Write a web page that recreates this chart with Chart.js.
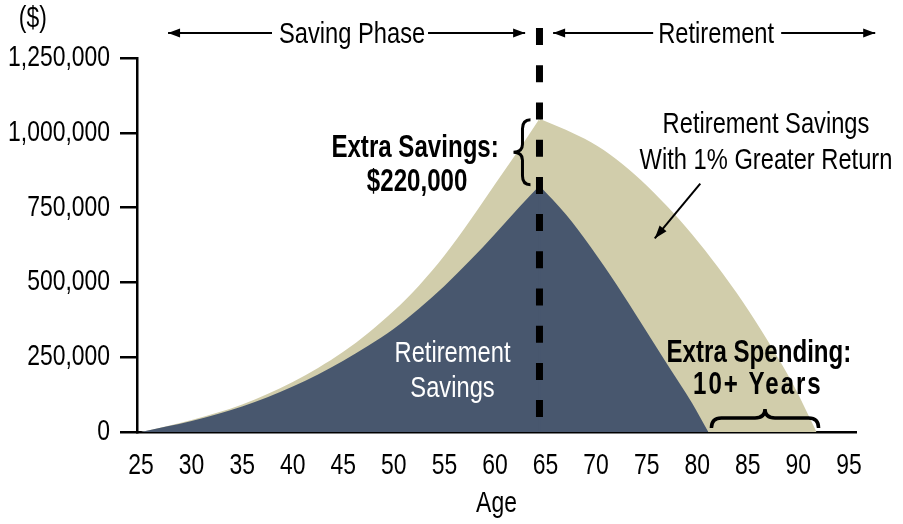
<!DOCTYPE html>
<html><head><meta charset="utf-8">
<script src="https://cdn.jsdelivr.net/npm/chart.js@4.4.0/dist/chart.umd.min.js"></script>
<style>html,body{margin:0;padding:0;background:#fff;overflow:hidden}</style>
</head><body>
<canvas id="c" width="903" height="524" style="width:903px;height:524px;display:block"></canvas>
<script>
// ---- data ----
const accumAges   = [25, 27.5, 30, 32.5, 35, 37.5, 40, 42.5, 45, 47.5, 50, 52.5, 55, 57.5, 60, 62.5, 64.4];
const baseAccum   = [0, 18000, 37000, 59000, 85000, 116000, 152000, 192000, 238000, 289000, 345000, 413000, 488000, 572000, 662000, 755000, 823000];
const higherAccum = [0, 19000, 40000, 64000, 92000, 127000, 167000, 214000, 268000, 332000, 405000, 490000, 590000, 705000, 828000, 950000, 1047000];
const drawAges    = [64.4, 67, 69.5, 72, 74.5, 77, 79.5, 81.1];
const baseDraw    = [823000, 728000, 617000, 494000, 362000, 228000, 96000, 0];
const higherDrawAges = [64.4, 67, 69.5, 72, 74.5, 77, 79.5, 82, 84.5, 87, 89.5, 91.8];
const higherDraw     = [1047000, 1010000, 968000, 912000, 840000, 755000, 660000, 553000, 435000, 303000, 158000, 0];
const xTicks = [25, 30, 35, 40, 45, 50, 55, 60, 65, 70, 75, 80, 85, 90, 95];
const yTicks = [0, 250000, 500000, 750000, 1000000, 1250000];
const retireAge = 64.4;

const TAN = '#d1cdab', NAVY = '#48576e';
const FAM = "'Liberation Sans', Arimo, 'Noto Sans', sans-serif";
const FS = 29, SX = 0.79;
Chart.defaults.font.family = FAM;
Chart.defaults.font.size = FS;
Chart.defaults.color = '#000';

// condensed text: squeeze every string drawn on this canvas horizontally
const canvas = document.getElementById('c');
const c2d = canvas.getContext('2d');
const origFill = c2d.fillText.bind(c2d), origMeasure = c2d.measureText.bind(c2d);
c2d.fillText = function (t, x, y) {
  this.save(); this.translate(x, y); this.scale(SX, 1); origFill(t, 0, 0); this.restore();
};
c2d.measureText = function (t) {
  const m = origMeasure(t);
  return { width: m.width * SX, actualBoundingBoxAscent: m.actualBoundingBoxAscent,
    actualBoundingBoxDescent: m.actualBoundingBoxDescent,
    actualBoundingBoxLeft: m.actualBoundingBoxLeft * SX, actualBoundingBoxRight: m.actualBoundingBoxRight * SX };
};

const pts = (xs, ys) => xs.map((a, i) => ({x: a, y: ys[i]}));
const area = (data, color, order) => ({
  data, order, backgroundColor: color, borderColor: color, borderWidth: 0, pointRadius: 0,
  fill: 'origin', cubicInterpolationMode: 'monotone'
});

function arrowH(ctx, x1, x2, y, head) { // arrow pointing to x2
  ctx.beginPath(); ctx.moveTo(x1, y); ctx.lineTo(x2, y); ctx.stroke();
  const d = Math.sign(x2 - x1);
  ctx.beginPath(); ctx.moveTo(x2, y); ctx.lineTo(x2 - d*head, y - 4.5); ctx.lineTo(x2 - d*head, y + 4.5); ctx.closePath(); ctx.fill();
}

const annot = {
  id: 'annot',
  afterDatasetsDraw(chart) {
    // close the hairline seam where the saving and spending areas meet
    const {ctx, scales: {x, y}} = chart;
    const rx = x.getPixelForValue(retireAge);
    ctx.save();
    ctx.lineWidth = 2;
    ctx.strokeStyle = NAVY;
    ctx.beginPath(); ctx.moveTo(rx, y.getPixelForValue(0)); ctx.lineTo(rx, y.getPixelForValue(baseAccum[baseAccum.length-1]) + 1); ctx.stroke();
    ctx.strokeStyle = TAN;
    ctx.beginPath(); ctx.moveTo(rx, y.getPixelForValue(baseAccum[baseAccum.length-1])); ctx.lineTo(rx, y.getPixelForValue(higherAccum[higherAccum.length-1]) + 2); ctx.stroke();
    ctx.restore();
  },
  afterDraw(chart) {
    const {ctx, scales: {x, y}} = chart;
    const X = v => x.getPixelForValue(v), Y = v => y.getPixelForValue(v);
    ctx.save();
    // retirement dashed line
    const rx = X(retireAge);
    ctx.strokeStyle = '#000'; ctx.lineWidth = 7; ctx.setLineDash([17, 20.2]);
    ctx.beginPath(); ctx.moveTo(rx, Y(1350000)); ctx.lineTo(rx, Y(45000)); ctx.stroke();
    ctx.setLineDash([]);

    ctx.fillStyle = '#000'; ctx.strokeStyle = '#000'; ctx.lineWidth = 2;
    ctx.textAlign = 'center'; ctx.textBaseline = 'middle';
    const norm = `30px ${FAM}`, bold = `bold 30.5px ${FAM}`;
    ctx.font = `${FS}px ${FAM}`;
    ctx.fillText('($)', X(14.3), Y(1380000));
    ctx.font = norm;
    // phase arrows
    const ty = Y(1326667);
    ctx.fillText('Saving Phase', X(45.87), ty);
    arrowH(ctx, X(37.95), X(27.67), ty - 2, 12);
    arrowH(ctx, X(53.38), X(62.98), ty - 2, 12);
    ctx.fillText('Retirement', X(81.87), ty);
    arrowH(ctx, X(75.64), X(65.75), ty - 2, 12);
    arrowH(ctx, X(88.3), X(97.6), ty - 2, 12);

    // extra savings
    ctx.font = bold;
    ctx.fillText('Extra Savings:', X(52.1), Y(947000));
    ctx.fillText('$220,000', X(52.3), Y(833000));
    // vertical brace
    const yt = Y(higherAccum[higherAccum.length-1]), yb = Y(baseAccum[baseAccum.length-1]);
    const ym = (yt + yb) / 2, xe = rx - 9, xm = rx - 17, xt = rx - 26;
    ctx.lineWidth = 3;
    ctx.beginPath();
    ctx.moveTo(xe, yt + 1);
    ctx.quadraticCurveTo(xm, yt + 1, xm, yt + 10);
    ctx.lineTo(xm, ym - 8);
    ctx.quadraticCurveTo(xm, ym, xt, ym);
    ctx.quadraticCurveTo(xm, ym, xm, ym + 8);
    ctx.lineTo(xm, yb - 10);
    ctx.quadraticCurveTo(xm, yb - 1, xe, yb - 1);
    ctx.stroke();

    // higher return label + arrow
    ctx.font = norm;
    ctx.fillText('Retirement Savings', X(86.8), Y(1026667));
    ctx.fillText('With 1% Greater Return', X(86.8), Y(906667));
    const ax1 = X(80.3), ay1 = Y(830000), ax2 = X(75.8), ay2 = Y(647000);
    ctx.lineWidth = 2;
    ctx.beginPath(); ctx.moveTo(ax1, ay1); ctx.lineTo(ax2, ay2); ctx.stroke();
    const ang = Math.atan2(ay2 - ay1, ax2 - ax1);
    ctx.beginPath(); ctx.moveTo(ax2, ay2);
    ctx.lineTo(ax2 - 13*Math.cos(ang) + 4.5*Math.sin(ang), ay2 - 13*Math.sin(ang) - 4.5*Math.cos(ang));
    ctx.lineTo(ax2 - 13*Math.cos(ang) - 4.5*Math.sin(ang), ay2 - 13*Math.sin(ang) + 4.5*Math.cos(ang));
    ctx.closePath(); ctx.fill();

    // inner white label
    ctx.fillStyle = '#fff';
    ctx.fillText('Retirement', X(55.8), Y(260000));
    ctx.fillText('Savings', X(55.8), Y(143000));

    // extra spending
    ctx.fillStyle = '#000'; ctx.font = bold;
    ctx.fillText('Extra Spending:', X(86.1), Y(262000));
    ctx.letterSpacing = '2.5px';
    ctx.fillText('10+ Years', X(86.0), Y(154000));
    ctx.letterSpacing = '0px';
    // horizontal brace (tip up)
    const bx1 = X(81.4), bx2 = X(92.0), bxm = X(86.7);
    const yE = Y(13000), yL = Y(47000), yT = Y(77000);
    ctx.lineWidth = 3.5;
    ctx.beginPath();
    ctx.moveTo(bx1, yE);
    ctx.quadraticCurveTo(bx1, yL, bx1 + 10, yL);
    ctx.lineTo(bxm - 10, yL);
    ctx.quadraticCurveTo(bxm, yL, bxm, yT);
    ctx.quadraticCurveTo(bxm, yL, bxm + 10, yL);
    ctx.lineTo(bx2 - 10, yL);
    ctx.quadraticCurveTo(bx2, yL, bx2, yE);
    ctx.stroke();
    ctx.restore();
  }
};

new Chart(canvas, {
  type: 'line',
  data: {
    datasets: [
      area(pts(accumAges, baseAccum), NAVY, 1),
      area(pts(drawAges, baseDraw), NAVY, 1),
      area(pts(accumAges, higherAccum), TAN, 2),
      area(pts(higherDrawAges, higherDraw), TAN, 2)
    ]
  },
  options: {
    responsive: false, animation: false, devicePixelRatio: 1,
    layout: { padding: { top: 58, right: 47, left: 0, bottom: 0 } },
    plugins: { legend: { display: false }, tooltip: { enabled: false } },
    scales: {
      x: {
        type: 'linear', min: 24.6, max: 95.7,
        afterBuildTicks: s => { s.ticks = xTicks.map(v => ({value: v})); },
        afterFit: s => { s.height = 92; },
        grid: { display: true, drawOnChartArea: false, drawTicks: false },
        border: { display: true, color: '#000', width: 2.5 },
        ticks: { padding: 17, maxRotation: 0, autoSkip: false, color: '#000' },
        title: { display: true, text: 'Age', color: '#000', padding: { top: 0, bottom: 3 } }
      },
      y: {
        min: 0, max: 1250000,
        afterBuildTicks: s => { s.ticks = yTicks.map(v => ({value: v})); },
        afterFit: s => { s.width = 137; },
        grid: { display: true, drawOnChartArea: false, drawTicks: true, tickLength: 17, color: '#000', lineWidth: 2.5 },
        border: { display: true, color: '#000', width: 2.5 },
        ticks: { padding: 10, color: '#000', callback: v => v.toLocaleString('en-US') }
      }
    }
  },
  plugins: [annot]
});
</script>
</body></html>
